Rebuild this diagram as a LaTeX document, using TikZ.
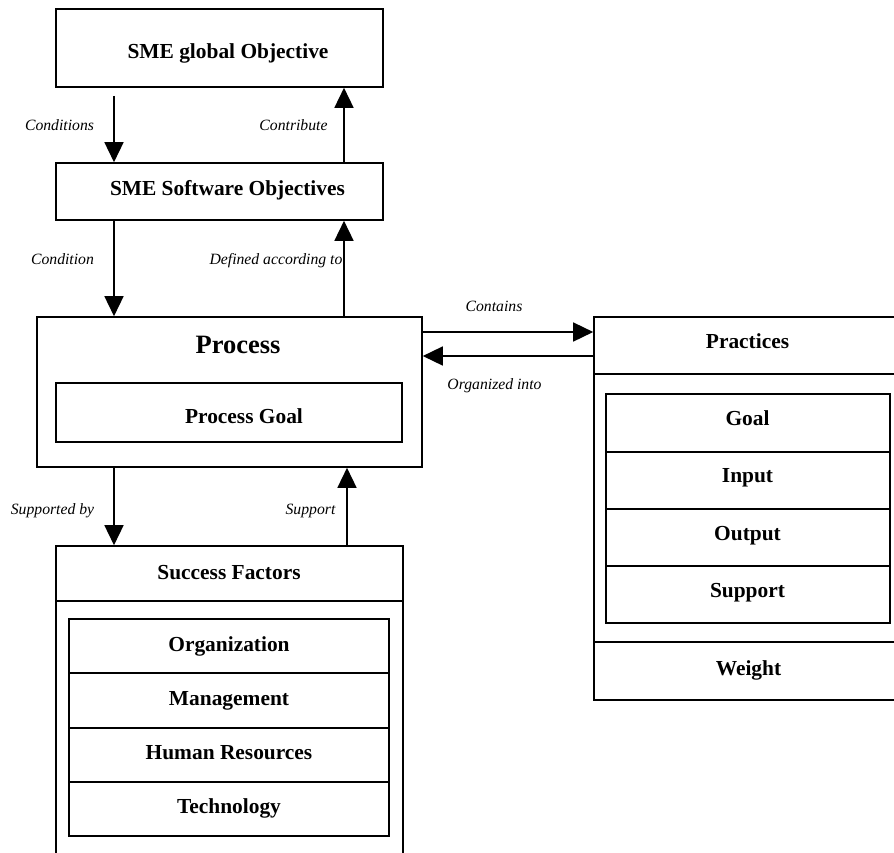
\documentclass[tikz,border=0pt]{standalone}
\usepackage{fontspec}
\setmainfont{Liberation Serif}
\usetikzlibrary{arrows.meta}

\begin{document}
\begin{tikzpicture}[x=1pt,y=-1pt,
  frame/.style={draw, line width=1.6pt, inner sep=0pt, anchor=center},
  title/.style={font=\fontsize{21.4}{24}\selectfont\bfseries, inner sep=0pt, anchor=base},
  big/.style={font=\fontsize{26.5}{30}\selectfont\bfseries, inner sep=0pt, anchor=base},
  tag/.style={font=\fontsize{15.7}{18}\selectfont\itshape, inner sep=0pt, anchor=base},
  link/.style={line width=1.5pt, -{Triangle[width=19pt,length=20pt]}}]

\useasboundingbox (0,0) rectangle (894,852);
\clip (0,0) rectangle (894,852);

% columns and rows used by the connectors
\coordinate (cL) at (114,0);
\coordinate (cR) at (344,0);
\coordinate (cR2) at (347,0);
\coordinate (rA) at (0,332);
\coordinate (rB) at (0,356);

% objectives
\node[frame, minimum width=327pt, minimum height=78pt] (glob) at (219.5,48) {};
\node[title] (globT) at (228,58) {SME global Objective};
\node[frame, minimum width=327pt, minimum height=57pt] (soft) at (219.5,191.5) {};
\node[title] (softT) at (227.5,195) {SME Software Objectives};

% process
\node[frame, minimum width=385pt, minimum height=150pt] (proc) at (229.5,392) {};
\node[big] (procT) at (238,353) {Process};
\node[frame, minimum width=346pt, minimum height=59pt] (pgoal) at (229,412.5) {};
\node[title] (pgoalT) at (244,423) {Process Goal};

% practices (runs past the right edge)
\node[frame, minimum width=308pt, minimum height=57pt] (pracH) at (748,345.5) {};
\node[title] (pracT) at (747.5,348) {Practices};
\node[frame, minimum width=308pt, minimum height=326pt] (pracB) at (748,537) {};
\node[frame, minimum width=284pt, minimum height=58pt] (pGoal) at (748,423) {};
\node[frame, minimum width=284pt, minimum height=57pt] (pIn) at (748,480.5) {};
\node[frame, minimum width=284pt, minimum height=57pt] (pOut) at (748,537.5) {};
\node[frame, minimum width=284pt, minimum height=57pt] (pSup) at (748,594.5) {};
\node[frame, minimum width=308pt, minimum height=58pt] (pW) at (748,671) {};
\node[title] (pGoalT) at (747.5,425) {Goal};
\node[title] (pInT) at (747.5,482.5) {Input};
\node[title] (pOutT) at (747.5,540) {Output};
\node[title] (pSupT) at (747.5,597.5) {Support};
\node[title] (pWT) at (748.5,675) {Weight};

% success factors (runs past the bottom edge)
\node[frame, minimum width=347pt, minimum height=55pt] (sfH) at (229.5,573.5) {};
\node[title] (sfT) at (229,579) {Success Factors};
\draw[line width=1.6pt] ([xshift=0.8pt]sfH.south west) -- ++(0,280);
\draw[line width=1.6pt] ([xshift=-0.8pt]sfH.south east) -- ++(0,280);
\node[frame, minimum width=320pt, minimum height=54pt] (sOrg) at (229,646) {};
\node[frame, minimum width=320pt, minimum height=55pt] (sMan) at (229,700.5) {};
\node[frame, minimum width=320pt, minimum height=54pt] (sHum) at (229,755) {};
\node[frame, minimum width=320pt, minimum height=54pt] (sTec) at (229,809) {};
\node[title] (sOrgT) at (229,651) {Organization};
\node[title] (sManT) at (229,705) {Management};
\node[title] (sHumT) at (229,759) {Human Resources};
\node[title] (sTecT) at (229,813) {Technology};

% connectors
\draw[link, shorten <=8pt] (glob.south -| cL) -- (soft.north -| cL);
\draw[link] (soft.north -| cR) -- (glob.south -| cR);
\draw[link] (soft.south -| cL) -- (proc.north -| cL);
\draw[link] (proc.north -| cR) -- (soft.south -| cR);
\draw[link] (proc.east |- rA) -- (pracH.west |- rA);
\draw[link] (pracH.west |- rB) -- (proc.east |- rB);
\draw[link] (proc.south -| cL) -- (sfH.north -| cL);
\draw[link] (sfH.north -| cR2) -- (proc.south -| cR2);

% connector labels
\node[tag] (lCond1) at (59.5,130) {Conditions};
\node[tag] (lContr) at (293.5,130) {Contribute};
\node[tag] (lCond2) at (62.5,264) {Condition};
\node[tag] (lDef) at (276,264) {Defined according to};
\node[tag] (lCont) at (494,311.5) {Contains};
\node[tag] (lOrg) at (494.5,389) {Organized into};
\node[tag] (lSupBy) at (52.5,514) {Supported by};
\node[tag] (lSup) at (310.5,514) {Support};

\end{tikzpicture}
\end{document}
